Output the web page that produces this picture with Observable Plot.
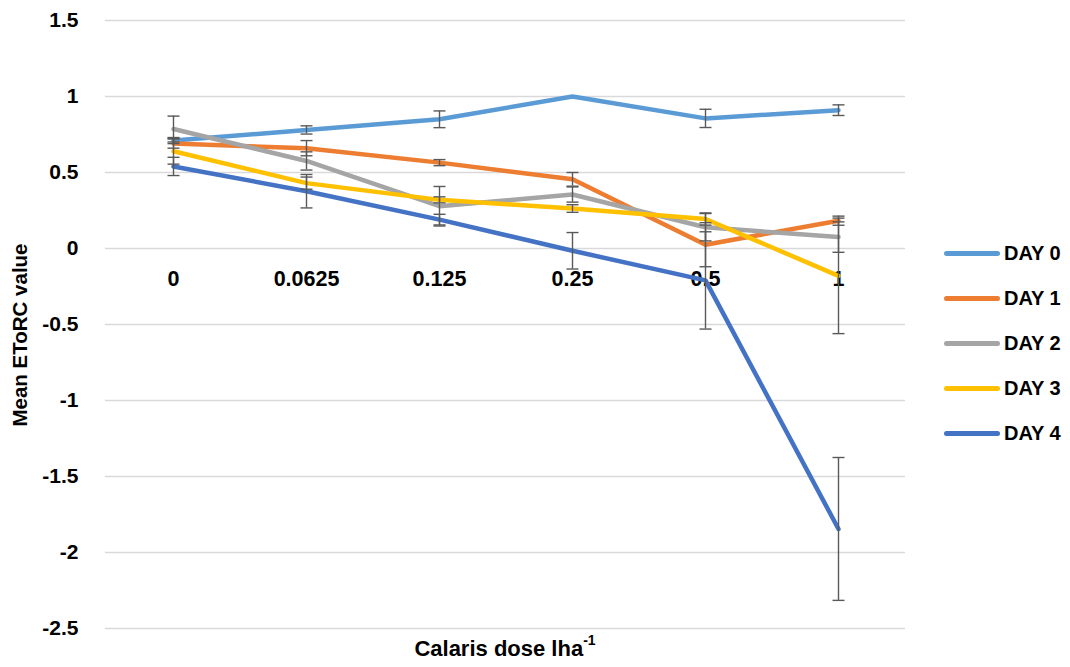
<!DOCTYPE html>
<html>
<head>
<meta charset="utf-8">
<script src="https://cdn.jsdelivr.net/npm/d3@7"></script>
<script src="https://cdn.jsdelivr.net/npm/@observablehq/plot@0.6"></script>
<style>
  body { margin: 0; background: #fff; }
  #wrap { position: relative; width: 1070px; height: 667px; font-family: "Liberation Sans", Arial, sans-serif; font-weight: bold; color: #000; overflow: hidden; }
  #wrap svg { position: absolute; left: 0; top: 0; }
  .ytitle { position: absolute; left: 20px; top: 335px; transform: translate(-50%, -50%) rotate(-90deg); font-size: 20.5px; white-space: nowrap; }
  .xtitle { position: absolute; left: 505px; top: 648px; transform: translate(-50%, -50%); font-size: 22px; white-space: nowrap; }
  .xtitle sup { font-size: 14px; position: relative; top: -2px; }
  .legend { position: absolute; left: 944px; top: 231px; }
  .item { display: flex; align-items: center; height: 45px; font-size: 20px; }
  .sw { width: 56px; height: 4.5px; border-radius: 3px; margin-right: 4px; }
</style>
</head>
<body>
<div id="wrap"></div>
<script>
const doses = ["0", "0.0625", "0.125", "0.25", "0.5", "1"];
const seriesNames = ["DAY 0", "DAY 1", "DAY 2", "DAY 3", "DAY 4"];
const colors = ["#5B9BD5", "#ED7D31", "#A5A5A5", "#FFC000", "#4472C4"];
const yTicks = [1.5, 1, 0.5, 0, -0.5, -1, -1.5, -2, -2.5];

const day0 = [0.71, 0.78, 0.85, 1.00, 0.856, 0.91];
const day1 = [0.69, 0.66, 0.565, 0.455, 0.025, 0.183];
const day2 = [0.786, 0.576, 0.278, 0.355, 0.14, 0.075];
const day3 = [0.64, 0.43, 0.32, 0.263, 0.194, -0.18];
const day4 = [0.54, 0.377, 0.19, -0.015, -0.21, -1.845];

const day0Err = [0.02, 0.027, 0.055, 0, 0.06, 0.035];
const day1Err = [0.03, 0.05, 0.02, 0.045, 0.145, 0.03];
const day2Err = [0.085, 0.06, 0.13, 0.05, 0.09, 0.1];
const day3Err = [0.085, 0.04, 0.02, 0.025, 0.04, 0.38];
const day4Err = [0.06, 0.11, 0.035, 0.12, 0.32, 0.47];

const values = [day0, day1, day2, day3, day4];
const errs = [day0Err, day1Err, day2Err, day3Err, day4Err];

const rows = [];
seriesNames.forEach((s, k) => doses.forEach((d, i) => rows.push({series: s, dose: d, value: values[k][i], err: errs[k][i]})));
const errRows = rows.filter(r => r.err > 0);

const cap = {draw(ctx) { ctx.moveTo(-6, 0); ctx.lineTo(6, 0); }};
const errStyle = {stroke: "#595959", strokeWidth: 1.4};

const plot = Plot.plot({
  width: 1070,
  height: 667,
  marginLeft: 105,
  marginRight: 165,
  marginTop: 20,
  marginBottom: 39,
  style: {fontFamily: "Liberation Sans, Arial, sans-serif", background: "transparent", overflow: "visible"},
  x: {type: "point", domain: doses, padding: 0.5, axis: null},
  y: {domain: [-2.5, 1.5]},
  color: {domain: seriesNames, range: colors},
  marks: [
    Plot.gridY(yTicks, {stroke: "#d9d9d9", strokeOpacity: 1, strokeWidth: 1.3}),
    Plot.axisY(yTicks, {tickSize: 0, tickPadding: 27, tickFormat: d => String(d), fontSize: 21, fontWeight: "bold", fill: "#000", label: null}),
    Plot.text(doses, {x: d => d, y: 0, dy: 31, text: d => d, fontSize: 21.5, fontWeight: "bold", fill: "#000"}),
    Plot.line(rows, {x: "dose", y: "value", z: "series", stroke: "series", strokeWidth: 4.5, strokeLinecap: "round", strokeLinejoin: "round"}),
    Plot.ruleX(errRows, {x: "dose", y1: r => r.value - r.err, y2: r => r.value + r.err, ...errStyle}),
    Plot.dot(errRows, {x: "dose", y: r => r.value + r.err, symbol: cap, fill: "none", ...errStyle}),
    Plot.dot(errRows, {x: "dose", y: r => r.value - r.err, symbol: cap, fill: "none", ...errStyle})
  ]
});

const wrap = document.getElementById("wrap");
wrap.appendChild(plot);

const yt = document.createElement("div");
yt.className = "ytitle";
yt.textContent = "Mean EToRC value";
wrap.appendChild(yt);

const xt = document.createElement("div");
xt.className = "xtitle";
xt.innerHTML = "Calaris dose lha<sup>-1</sup>";
wrap.appendChild(xt);

const lg = document.createElement("div");
lg.className = "legend";
seriesNames.forEach((s, k) => {
  const it = document.createElement("div");
  it.className = "item";
  const sw = document.createElement("div");
  sw.className = "sw";
  sw.style.background = colors[k];
  const tx = document.createElement("span");
  tx.textContent = s;
  it.appendChild(sw);
  it.appendChild(tx);
  lg.appendChild(it);
});
wrap.appendChild(lg);
</script>
</body>
</html>
